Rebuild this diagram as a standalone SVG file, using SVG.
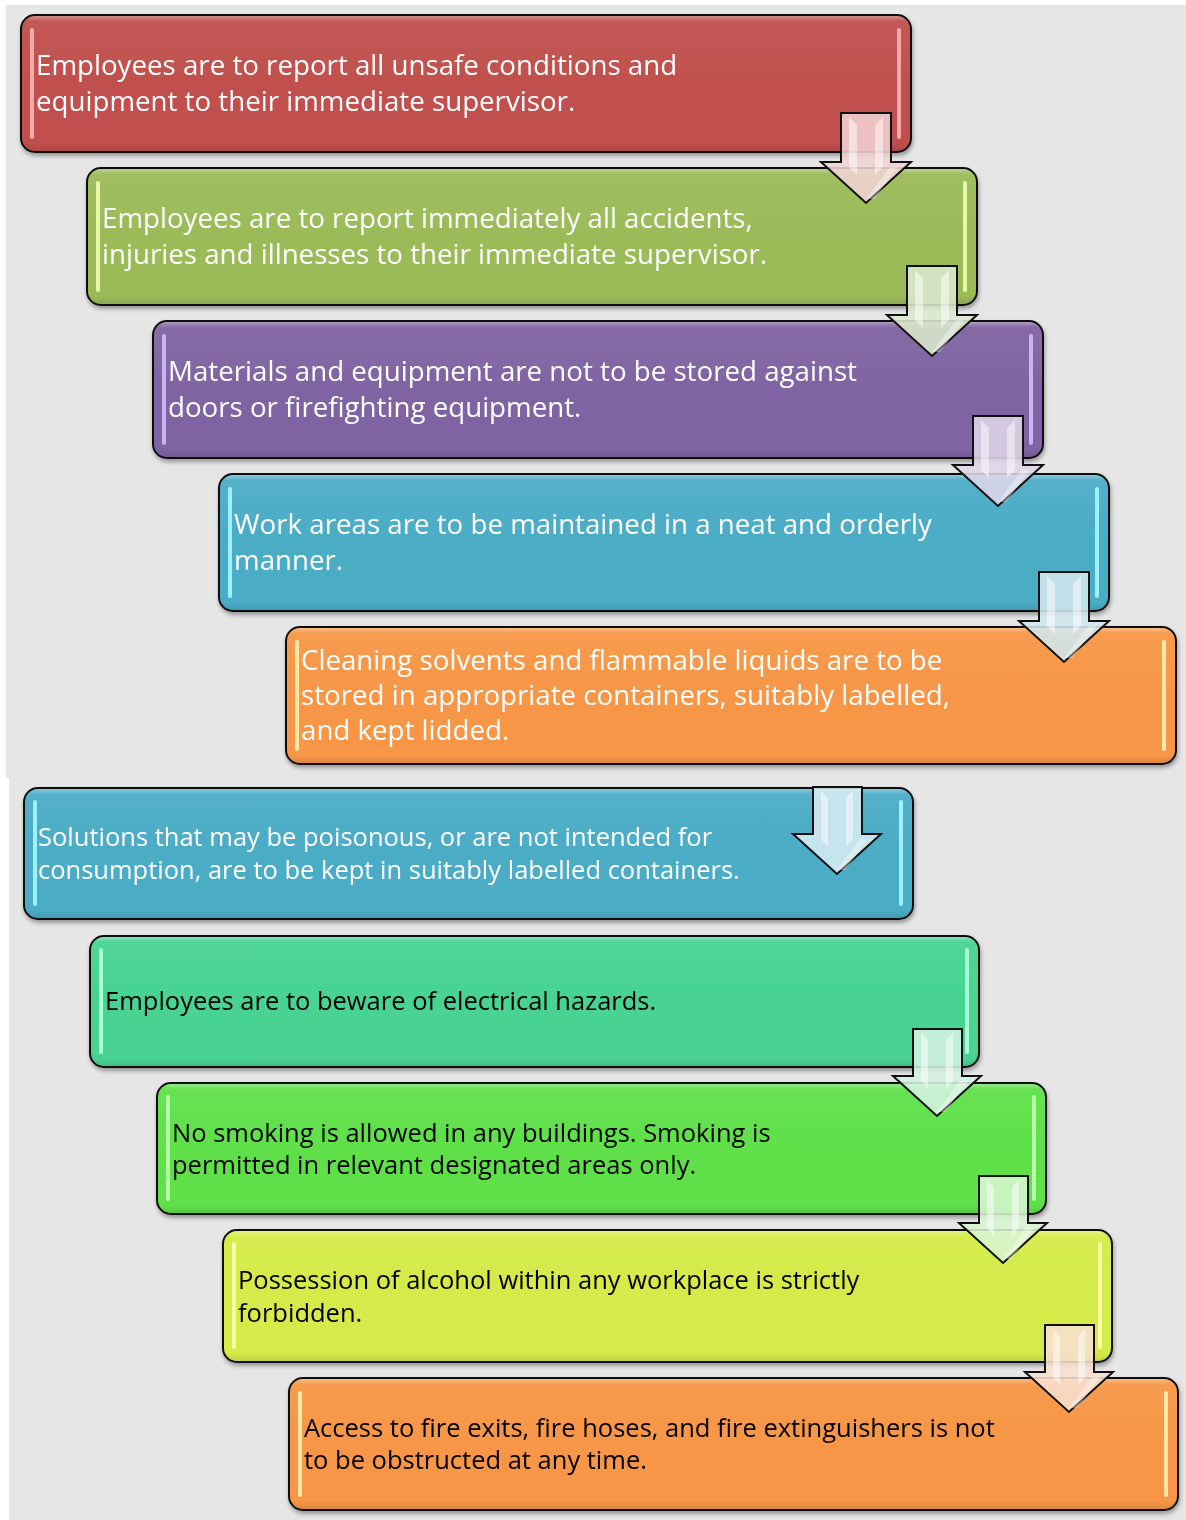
<svg xmlns="http://www.w3.org/2000/svg" xmlns:xlink="http://www.w3.org/1999/xlink" width="1186" height="1520" viewBox="0 0 1186 1520">
<defs>
<style>
.box{stroke:#111;stroke-width:2}
.t{font-family:"Open Sans","Noto Sans","Liberation Sans",sans-serif;font-size:27.7px}
.tb{font-family:"Open Sans","Noto Sans","Liberation Sans",sans-serif;font-size:25.5px}
.w{fill:#fff}.k{fill:#000}
.arr{stroke:#111;stroke-width:2;stroke-linejoin:miter}
.gloss{fill:url(#gloss)}
</style>
<linearGradient id="gloss" x1="0" y1="0" x2="0" y2="1">
<stop offset="0" stop-color="#fff" stop-opacity="0.35"/>
<stop offset="0.04" stop-color="#fff" stop-opacity="0.05"/>
<stop offset="0.5" stop-color="#fff" stop-opacity="0"/>
<stop offset="0.94" stop-color="#000" stop-opacity="0"/>
<stop offset="1" stop-color="#000" stop-opacity="0.1"/>
</linearGradient>
<filter id="sh" x="-5%" y="-10%" width="110%" height="125%">
<feGaussianBlur in="SourceAlpha" stdDeviation="2"/>
<feOffset dx="1" dy="3"/>
<feComponentTransfer><feFuncA type="linear" slope="0.35"/></feComponentTransfer>
<feMerge><feMergeNode/><feMergeNode in="SourceGraphic"/></feMerge>
</filter>
<g id="arrowT">
<polygon class="arr" points="-25,0 25,0 25,49 45,49 0,90 -45,49 -25,49"/>
<polygon points="-17,4 -9,12 -9,62 -17,54" fill="#fff" opacity="0.55"/>
<polygon points="17,4 9,12 9,62 17,54" fill="#fff" opacity="0.55"/>
<polygon points="32,54 8,86 0,86 24,54" fill="#fff" opacity="0.4"/>
</g>
<g id="arrowB">
<polygon class="arr" points="-24,0 25,0 25,47 44,47 0,87 -44,47 -24,47"/>
<polygon points="-16,4 -9,11 -9,60 -16,52" fill="#fff" opacity="0.55"/>
<polygon points="16,4 9,11 9,60 16,52" fill="#fff" opacity="0.55"/>
<polygon points="31,52 8,83 0,83 23,52" fill="#fff" opacity="0.4"/>
</g>
</defs>
<rect x="0" y="0" width="1186" height="1520" fill="#fff"/>
<rect x="6" y="5" width="1180" height="773" fill="#e6e6e6"/>
<rect x="9" y="778" width="1177" height="742" fill="#e6e6e6"/>

<g id="node1" filter="url(#sh)">
<rect class="box" x="21" y="15" width="890" height="137" rx="14" fill="#c0504d"/>
<rect x="22" y="16" width="888" height="135" rx="13" class="gloss"/>
<rect x="30" y="28" width="4" height="111" rx="2" fill="#f4aaa8"/>
<rect x="897" y="28" width="4" height="111" rx="2" fill="#f4aaa8"/>
<text class="t w" x="36" y="75">Employees are to report all unsafe conditions and</text>
<text class="t w" x="36" y="111">equipment to their immediate supervisor.</text>
</g>
<g id="node2" filter="url(#sh)">
<rect class="box" x="87" y="168" width="890" height="137" rx="14" fill="#9bbb59"/>
<rect x="88" y="169" width="888" height="135" rx="13" class="gloss"/>
<rect x="96" y="181" width="4" height="111" rx="2" fill="#e8f7a8"/>
<rect x="963" y="181" width="4" height="111" rx="2" fill="#e8f7a8"/>
<text class="t w" x="102" y="228">Employees are to report immediately all accidents,</text>
<text class="t w" x="102" y="264">injuries and illnesses to their immediate supervisor.</text>
</g>
<g id="node3" filter="url(#sh)">
<rect class="box" x="153" y="321" width="890" height="137" rx="14" fill="#8064a2"/>
<rect x="154" y="322" width="888" height="135" rx="13" class="gloss"/>
<rect x="162" y="334" width="4" height="111" rx="2" fill="#c9b5ef"/>
<rect x="1029" y="334" width="4" height="111" rx="2" fill="#c9b5ef"/>
<text class="t w" x="168" y="381">Materials and equipment are not to be stored against</text>
<text class="t w" x="168" y="417">doors or firefighting equipment.</text>
</g>
<g id="node4" filter="url(#sh)">
<rect class="box" x="219" y="474" width="890" height="137" rx="14" fill="#4bacc6"/>
<rect x="220" y="475" width="888" height="135" rx="13" class="gloss"/>
<rect x="228" y="487" width="4" height="111" rx="2" fill="#9ff0ff"/>
<rect x="1095" y="487" width="4" height="111" rx="2" fill="#9ff0ff"/>
<text class="t w" x="234" y="534">Work areas are to be maintained in a neat and orderly</text>
<text class="t w" x="234" y="570">manner.</text>
</g>
<g id="node5" filter="url(#sh)">
<rect class="box" x="286" y="627" width="890" height="137" rx="14" fill="#f79646"/>
<rect x="287" y="628" width="888" height="135" rx="13" class="gloss"/>
<rect x="295" y="640" width="4" height="111" rx="2" fill="#ffe9a8"/>
<rect x="1162" y="640" width="4" height="111" rx="2" fill="#ffe9a8"/>
<text class="t w" x="301" y="670">Cleaning solvents and flammable liquids are to be</text>
<text class="t w" x="301" y="705">stored in appropriate containers, suitably labelled,</text>
<text class="t w" x="301" y="740">and kept lidded.</text>
</g>
<g id="node6" filter="url(#sh)">
<rect class="box" x="24" y="788" width="889" height="131" rx="14" fill="#4bacc6"/>
<rect x="25" y="789" width="887" height="129" rx="13" class="gloss"/>
<rect x="33" y="800" width="4" height="106" rx="2" fill="#9ff0ff"/>
<rect x="899" y="800" width="4" height="106" rx="2" fill="#9ff0ff"/>
<text class="tb w" x="38" y="846">Solutions that may be poisonous, or are not intended for</text>
<text class="tb w" x="38" y="879">consumption, are to be kept in suitably labelled containers.</text>
</g>
<g id="node7" filter="url(#sh)">
<rect class="box" x="90" y="936" width="889" height="131" rx="14" fill="#48d392"/>
<rect x="91" y="937" width="887" height="129" rx="13" class="gloss"/>
<rect x="99" y="948" width="4" height="106" rx="2" fill="#a8ffd8"/>
<rect x="965" y="948" width="4" height="106" rx="2" fill="#a8ffd8"/>
<text class="tb k" x="105" y="1010">Employees are to beware of electrical hazards.</text>
</g>
<g id="node8" filter="url(#sh)">
<rect class="box" x="157" y="1083" width="889" height="131" rx="14" fill="#5fe04a"/>
<rect x="158" y="1084" width="887" height="129" rx="13" class="gloss"/>
<rect x="166" y="1095" width="4" height="106" rx="2" fill="#b6ffa8"/>
<rect x="1032" y="1095" width="4" height="106" rx="2" fill="#b6ffa8"/>
<text class="tb k" x="172" y="1142">No smoking is allowed in any buildings. Smoking is</text>
<text class="tb k" x="172" y="1174">permitted in relevant designated areas only.</text>
</g>
<g id="node9" filter="url(#sh)">
<rect class="box" x="223" y="1230" width="889" height="132" rx="14" fill="#d4eb48"/>
<rect x="224" y="1231" width="887" height="130" rx="13" class="gloss"/>
<rect x="232" y="1242" width="4" height="107" rx="2" fill="#f8ffa8"/>
<rect x="1098" y="1242" width="4" height="107" rx="2" fill="#f8ffa8"/>
<text class="tb k" x="238" y="1289">Possession of alcohol within any workplace is strictly</text>
<text class="tb k" x="238" y="1322">forbidden.</text>
</g>
<g id="node10" filter="url(#sh)">
<rect class="box" x="289" y="1378" width="889" height="132" rx="14" fill="#f79646"/>
<rect x="290" y="1379" width="887" height="130" rx="13" class="gloss"/>
<rect x="298" y="1391" width="4" height="106" rx="2" fill="#ffe9a8"/>
<rect x="1164" y="1391" width="4" height="106" rx="2" fill="#ffe9a8"/>
<text class="tb k" x="304" y="1437">Access to fire exits, fire hoses, and fire extinguishers is not</text>
<text class="tb k" x="304" y="1469">to be obstructed at any time.</text>
</g>

<g id="connectors" fill-opacity="0.88">
<use xlink:href="#arrowT" x="866" y="113" fill="#f0d3d2"/>
<use xlink:href="#arrowT" x="932" y="266" fill="#dbe8cd"/>
<use xlink:href="#arrowT" x="998" y="416" fill="#ddd6e8"/>
<use xlink:href="#arrowT" x="1064" y="572" fill="#d2e7ee"/>
<use xlink:href="#arrowB" x="837" y="787" fill="#d6ecf3"/>
<use xlink:href="#arrowB" x="937" y="1029" fill="#d4f2e2"/>
<use xlink:href="#arrowB" x="1003" y="1176" fill="#d8f5d0"/>
<use xlink:href="#arrowB" x="1069" y="1325" fill="#f8dfcf"/>
</g>
</svg>
